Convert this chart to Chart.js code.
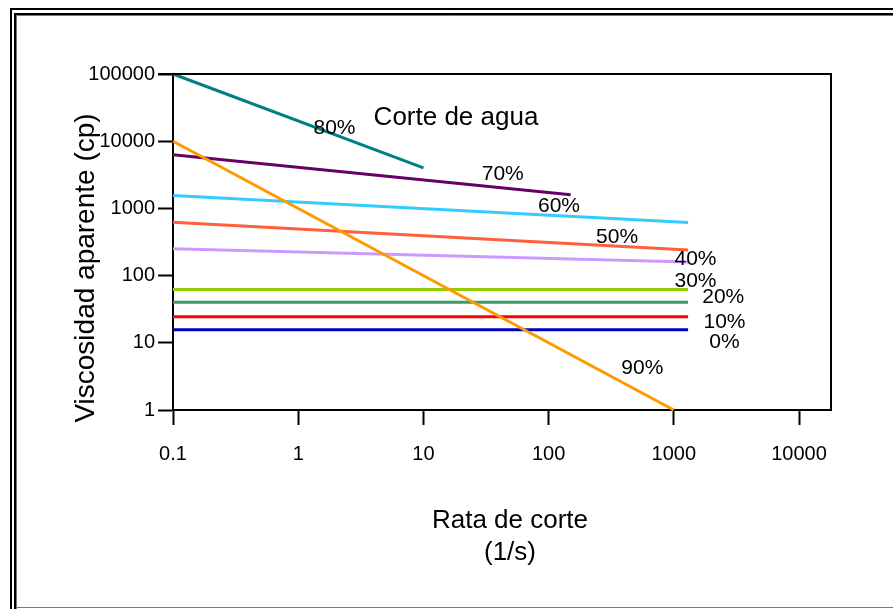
<!DOCTYPE html>
<html>
<head>
<meta charset="utf-8">
<script src="https://cdn.jsdelivr.net/npm/chart.js@4/dist/chart.umd.min.js"></script>
<style>
  html, body { margin: 0; padding: 0; background: #fff; overflow: hidden; }
</style>
</head>
<body>
<canvas id="chart" width="893" height="609"></canvas>
<script>
// water cut of each line
const cuts = ["0%", "10%", "20%", "30%", "40%", "50%", "60%", "70%", "80%", "90%"];
// shear rate (1/s) where each line starts and ends
const rateStart = [0.1, 0.1, 0.1, 0.1, 0.1, 0.1, 0.1, 0.1, 0.1, 0.1];
const rateEnd = [1300, 1300, 1300, 1300, 1300, 1300, 1300, 150, 10, 1000];
// apparent viscosity (cp) at start and end
const viscStart = [15.7, 24.5, 40, 62, 250, 620, 1550, 6300, 100000, 10000];
const viscEnd = [15.7, 24.5, 40, 62, 160, 240, 615, 1600, 4000, 1];
// where the percentage text sits, in chart units
const labelRate = [2540, 2540, 2480, 1490, 1490, 352, 121, 43, 1.95, 560];
const labelVisc = [10.3, 20.5, 47, 83.6, 178, 368, 1060, 3200, 15500, 4.2];

const xTicks = [0.1, 1, 10, 100, 1000, 10000];
const yTicks = [1, 10, 100, 1000, 10000, 100000];

const colors = ["#0000c0", "#ff0000", "#3a9a6a", "#99cc00", "#cc99ff",
                "#ff5f3a", "#33ccff", "#660066", "#008080", "#ff9900"];

const FONT = '"Liberation Sans", Arial, Helvetica, sans-serif';

const datasets = cuts.map((c, i) => ({
  label: c,
  data: [{ x: rateStart[i], y: viscStart[i] }, { x: rateEnd[i], y: viscEnd[i] }],
  borderColor: colors[i],
  borderWidth: 3,
  pointRadius: 0,
  fill: false,
  clip: false,
  order: i === 9 ? 0 : 10 - i
}));

// outer double frame of the slide
const framePlugin = {
  id: "frame",
  beforeDraw(chart) {
    const ctx = chart.ctx;
    const W = chart.width, H = chart.height;
    ctx.save();
    ctx.fillStyle = "#fff";
    ctx.fillRect(0, 0, W, H);
    ctx.strokeStyle = "#000";
    ctx.lineWidth = 2;
    ctx.beginPath();
    ctx.moveTo(11, H + 5); ctx.lineTo(11, 9); ctx.lineTo(W + 5, 9);
    ctx.moveTo(15, H + 5); ctx.lineTo(15, 14); ctx.lineTo(W + 5, 14);
    ctx.stroke();
    ctx.strokeStyle = "#777";
    ctx.lineWidth = 1;
    ctx.beginPath();
    ctx.moveTo(16.5, H + 5); ctx.lineTo(16.5, 15.5); ctx.lineTo(W + 5, 15.5);
    ctx.moveTo(16, 607.5); ctx.lineTo(W + 5, 607.5);
    ctx.stroke();
    ctx.restore();
  }
};

// box around the plot, line labels and axis titles
const textPlugin = {
  id: "texts",
  afterDraw(chart) {
    const ctx = chart.ctx;
    const a = chart.chartArea;
    const xs = chart.scales.x, ys = chart.scales.y;
    ctx.save();
    ctx.strokeStyle = "#000";
    ctx.lineWidth = 2;
    ctx.beginPath();
    ctx.moveTo(a.left - 15, a.top);
    ctx.lineTo(a.right, a.top);
    ctx.lineTo(a.right, a.bottom);
    ctx.stroke();

    ctx.fillStyle = "#000";
    ctx.textAlign = "center";
    ctx.textBaseline = "middle";
    ctx.font = "21px " + FONT;
    cuts.forEach((c, i) => {
      ctx.fillText(c, xs.getPixelForValue(labelRate[i]), ys.getPixelForValue(labelVisc[i]));
    });

    ctx.font = "26px " + FONT;
    ctx.fillText("Corte de agua", a.left + 283, a.top + 44);

    ctx.fillText("Rata de corte", (a.left + a.right) / 2 + 8, 521);
    ctx.fillText("(1/s)", (a.left + a.right) / 2 + 8, 553);

    ctx.translate(86, 268);
    ctx.rotate(-Math.PI / 2);
    ctx.font = "28px " + FONT;
    ctx.fillText("Viscosidad aparente (cp)", 0, 0);
    ctx.restore();
  }
};

new Chart(document.getElementById("chart"), {
  type: "line",
  data: { datasets },
  plugins: [framePlugin, textPlugin],
  options: {
    responsive: false,
    animation: false,
    layout: { padding: { top: 74, right: 62, left: 0, bottom: 0 } },
    plugins: { legend: { display: false }, tooltip: { enabled: false } },
    scales: {
      x: {
        type: "logarithmic",
        min: 0.1,
        max: 18000,
        afterBuildTicks(scale) { scale.ticks = xTicks.map(v => ({ value: v })); },
        afterFit(scale) { scale.height = 199; },
        ticks: {
          color: "#000",
          font: { size: 20, family: FONT },
          padding: 17,
          maxRotation: 0,
          autoSkip: false,
          callback: v => String(v)
        },
        grid: { drawOnChartArea: false, tickLength: 15, tickWidth: 2, tickColor: "#000" },
        border: { display: true, color: "#000", width: 2 }
      },
      y: {
        type: "logarithmic",
        min: 1,
        max: 100000,
        afterBuildTicks(scale) { scale.ticks = yTicks.map(v => ({ value: v })); },
        afterFit(scale) { scale.width = 173; },
        ticks: {
          color: "#000",
          font: { size: 20, family: FONT },
          padding: 3,
          autoSkip: false,
          callback: v => String(v)
        },
        grid: { drawOnChartArea: false, tickLength: 15, tickWidth: 2, tickColor: "#000" },
        border: { display: true, color: "#000", width: 2 }
      }
    }
  }
});
</script>
</body>
</html>
